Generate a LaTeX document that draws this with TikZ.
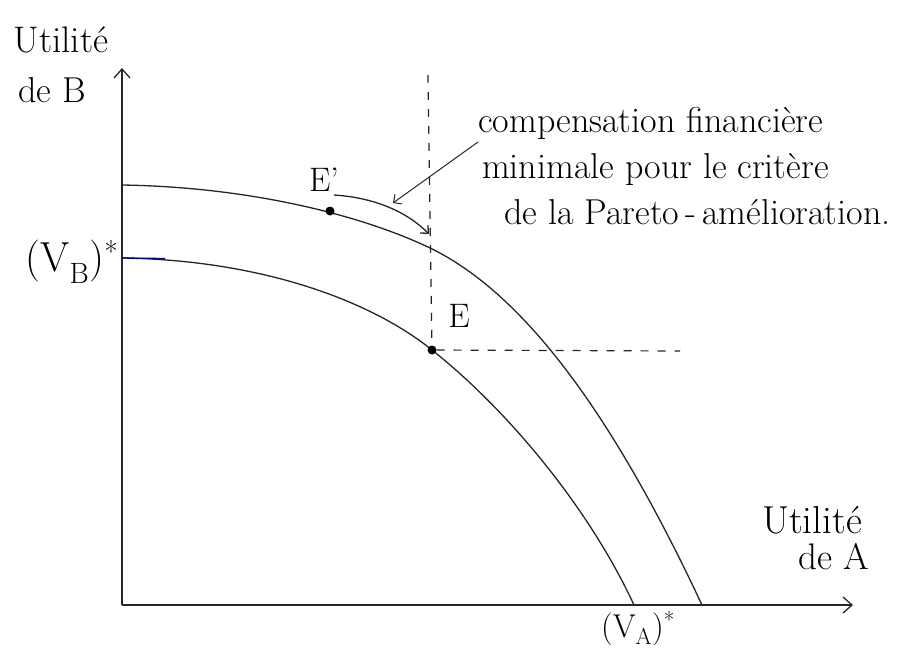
\documentclass[tikz,border=0pt]{standalone}
\usetikzlibrary{arrows.meta}
\begin{document}
\begin{tikzpicture}[x=1pt,y=-1pt,
  ink/.style={line width=1.3pt,black!85},
  axis/.style={ink,-{Straight Barb[length=9pt,width=16pt]}},
  guide/.style={line width=1.2pt,black!85,dash pattern=on 8pt off 9pt},
  dot/.style={circle,fill=black,inner sep=0pt,minimum size=9pt},
  lab/.style={inner sep=0pt},
  note/.style={font=\fontsize{36}{46}\selectfont,align=left,inner sep=0pt}]
\useasboundingbox (0,0) rectangle (900,654);
% axes
\coordinate (O) at (122,605);
\coordinate (ytop) at (122,68);
\coordinate (xend) at (853,605);
\draw[axis] (O) -- (ytop);
\draw[axis] (O) -- (xend);
% frontiers
\draw[ink] (122,185) .. controls (250,187) and (360,215) .. (428,247)
                     .. controls (530,295) and (620,430) .. (702,605);
\draw[ink] (122,258) .. controls (260,260) and (370,300) .. (432,350)
                     .. controls (510,412) and (590,510) .. (634,605);
\draw[line width=1.3pt,blue!50!black] (122,258) -- (165,258.5);
% points
\node[dot] (Ep) at (330,211) {};
\node[dot] (E) at (432,350) {};
\node[lab,font=\fontsize{34}{38}\selectfont] (Eplab) at (324,180) {E'};
\node[lab,font=\fontsize{34}{38}\selectfont] (Elab) at (459,316) {E};
% dashed guides
\coordinate (vtop) at (428,75);
\coordinate (hend) at (680,351);
\draw[guide] (vtop) -- (E);
\draw[guide] (E) -- (hend);
% arrows
\coordinate (cs) at (334,195);
\coordinate (ct) at (429,234);
\draw[ink,-{Straight Barb[length=6pt,width=11pt]}] (cs) .. controls (380,198) and (410,215) .. (ct);
\node[note,anchor=north west] (txt) at (478,107) {compensation financière\\ \hspace*{4pt}minimale pour le critère\\ \hspace*{26pt}de la Pareto\,-\,amélioration.};
\coordinate (as) at (478,142);
\coordinate (at) at (393,203);
\draw[line width=1pt,black!85,-{Straight Barb[length=6pt,width=12pt]}] (as) -- (at);
% labels
\node[lab,font=\fontsize{37}{40}\selectfont] (yl1) at (61,40) {Utilité};
\node[lab,font=\fontsize{36}{40}\selectfont] (yl2) at (52,90) {de B};
\node[lab,font=\fontsize{42}{46}\selectfont] (ub) at (72,262) {(V\textsubscript{B})\textsuperscript{*}};
\node[lab,font=\fontsize{33}{38}\selectfont] (ua) at (638,628) {(V\textsubscript{A})\textsuperscript{*}};
\node[lab,font=\fontsize{39}{42}\selectfont] (xl1) at (812,520) {Utilité};
\node[lab,font=\fontsize{37}{40}\selectfont] (xl2) at (834,557) {de A};
\end{tikzpicture}
\end{document}
